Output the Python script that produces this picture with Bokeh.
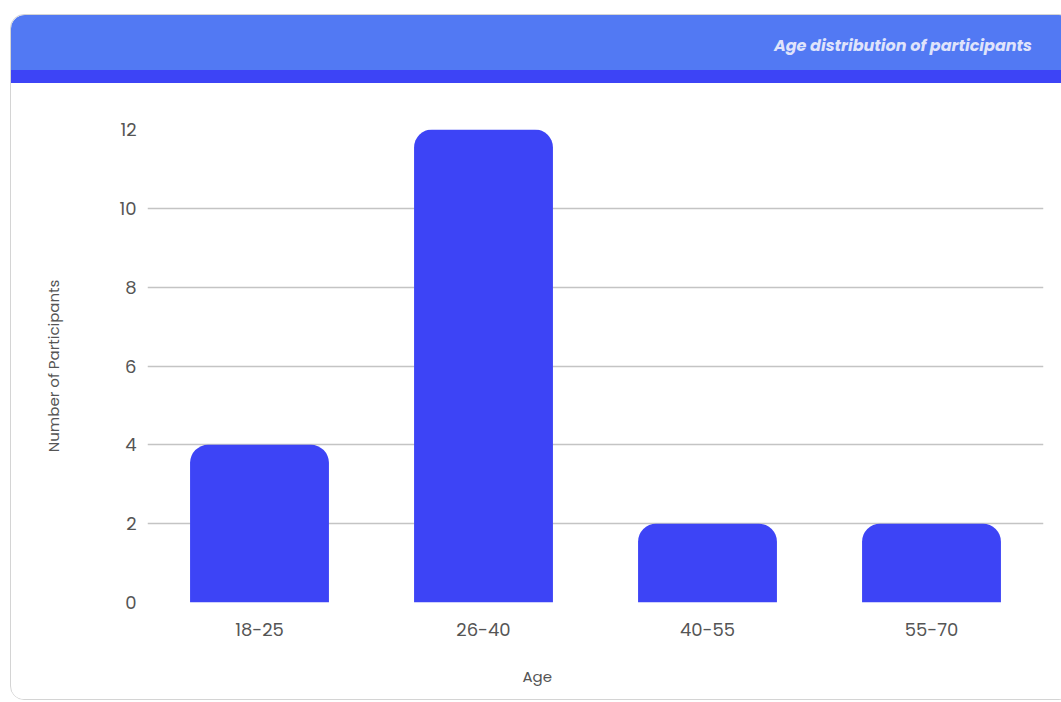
from bokeh.plotting import figure
from bokeh.models import Div, FactorRange, Range1d, Title
from bokeh.layouts import column
from bokeh.embed import file_html
from bokeh.resources import INLINE

categories = ["18-25", "26-40", "40-55", "55-70"]
counts = [4, 12, 2, 2]
y_ticks = [0, 2, 4, 6, 8, 10, 12]
title_text = "Age distribution of participants"
x_label = "Age"
y_label = "Number of Participants"

FONT = "Poppins, Inter, sans-serif"

header = Div(
    text=(f'<div style="width:1021px;text-align:right;padding-top:20px;'
          f'font-family:{FONT};font-weight:700;font-style:italic;font-size:16px;'
          f'color:#dfe3fb;">{title_text}</div>'),
    width=1061, height=68, margin=0,
    styles={"background": "linear-gradient(to bottom, #5279f3 0px, #5279f3 55px, #3d44f6 55px, #3d44f6 68px)",
            "border-top-left-radius": "14px"},
)

p = figure(
    x_range=FactorRange(*categories, range_padding=0),
    y_range=Range1d(0, 12),
    width=1061, height=640, margin=0,
    output_backend="svg", toolbar_location=None,
    min_border_left=136, min_border_right=29, min_border_top=46, min_border_bottom=121,
)
p.vbar(x=categories, top=counts, width=0.62, fill_color="#3d44f6", line_color=None,
       border_radius=(18, 18, 0, 0))

p.outline_line_color = None
p.xgrid.grid_line_color = None
p.ygrid.grid_line_color = "#c4c4c4"
p.ygrid.grid_line_width = 1.5
p.yaxis.ticker = y_ticks

for ax in (p.xaxis[0], p.yaxis[0]):
    ax.axis_line_color = None
    ax.major_tick_line_color = None
    ax.minor_tick_line_color = None
    ax.major_label_text_font = FONT
    ax.major_label_text_font_size = "18px"
    ax.major_label_text_color = "#555555"
    ax.axis_label_text_font = FONT
    ax.axis_label_text_font_size = "15px"
    ax.axis_label_text_font_style = "normal"
    ax.axis_label_text_color = "#555555"

p.yaxis.major_label_standoff = 5
p.xaxis.major_label_standoff = 14
p.yaxis.axis_label = y_label
p.yaxis.axis_label_standoff = 52

# x-axis title sits left of the frame centre in the reference
p.add_layout(Title(text=x_label, align="left", offset=375, standoff=50,
                   text_font=FONT, text_font_size="15px", text_font_style="normal",
                   text_color="#555555", vertical_align="bottom"), "below")

layout = column(header, p, spacing=0, margin=(14, 0, 0, 10), height=686,
                styles={"border": "1px solid #d4d4d4", "border-radius": "14px", "overflow": "hidden"})

open("out.html", "w").write(file_html(layout, INLINE))
